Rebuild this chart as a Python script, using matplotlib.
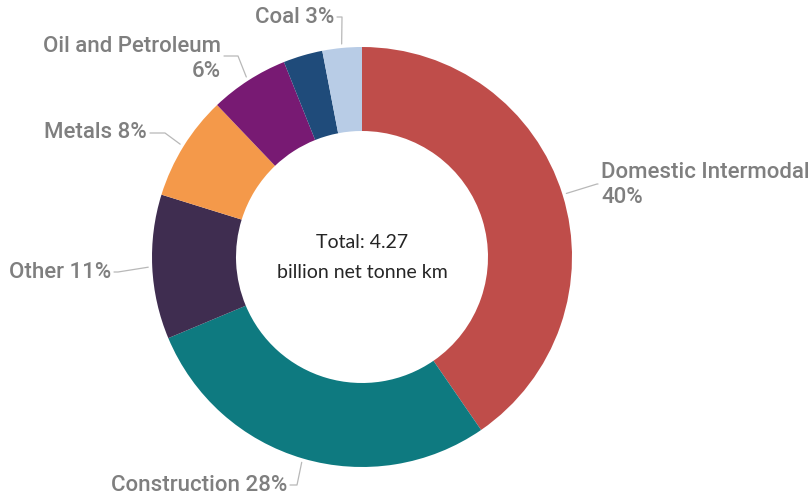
import matplotlib
matplotlib.use("Agg")
import matplotlib.pyplot as plt
import numpy as np

# ---- data ----
categories = ["Domestic Intermodal", "Construction", "Other", "Metals",
              "Oil and Petroleum", "Other bulk", "Coal"]
shares = [40, 28, 11, 8, 6, 3, 3]
label_texts = ["Domestic Intermodal\n40%", "Construction 28%", "Other 11%",
               "Metals 8%", "Oil and Petroleum\n6%", "", "Coal 3%"]
colors = ["#BF4D4A", "#0E7A80", "#3F2D50", "#F4994A", "#781A73", "#1F4B7A", "#B8CCE6"]
center_lines = ["Total: 4.27", "billion net tonne km"]

# ---- layout (pixel coords, y down) ----
W, H = 812, 495
CX, CY, R = 362, 257, 210
RING = 0.40
# text anchor (x, y), ha, elbow point
layout = {
    "Domestic Intermodal": ((601, 185), "left", (597, 184)),
    "Construction": ((287, 486), "right", (297, 485)),
    "Other": ((111, 272), "right", (118, 272)),
    "Metals": ((147, 133), "right", (165, 133)),
    "Oil and Petroleum": ((221, 59), "right", (238, 56)),
    "Coal": ((334, 17), "right", (342, 17)),
}

fig = plt.figure(figsize=(W / 100, H / 100), dpi=100)
ax = fig.add_axes([0, 0, 1, 1])

wedges, _ = ax.pie(shares, colors=colors, startangle=90, counterclock=False,
                   radius=R, center=(CX, H - CY), frame=True,
                   wedgeprops=dict(width=R * RING, linewidth=0))
ax.set_xlim(0, W)
ax.set_ylim(0, H)
ax.set_aspect("equal")
ax.axis("off")

label_font = dict(family=["Roboto", "DejaVu Sans"], fontsize=16, fontweight=500,
                  color="#7F7F7F")
line_col = "#B8B8B8"

for w, cat, txt in zip(wedges, categories, label_texts):
    if not txt or cat not in layout:
        continue
    mid = np.deg2rad((w.theta1 + w.theta2) / 2)
    sx = CX + (R + 4) * np.cos(mid)
    sy = (H - CY) + (R + 4) * np.sin(mid)
    (tx, ty), ha, (ex, ey) = layout[cat]
    ex_d, ey_d = ex, H - ey
    endx = tx + (-3 if ha == "left" else 3)
    ax.plot([sx, ex_d, endx], [sy, ey_d, ey_d], color=line_col, lw=0.9,
            solid_capstyle="round")
    ax.text(tx, H - ty, txt, ha=ha, va="center", linespacing=1.3, **label_font)

ax.text(CX, H - 243, center_lines[0], ha="center", va="center",
        family=["Lato", "DejaVu Sans"], fontsize=14, color="#252525")
ax.text(CX, H - 272, center_lines[1], ha="center", va="center",
        family=["Lato", "DejaVu Sans"], fontsize=14, color="#252525")

fig.savefig("out.png", dpi=100, facecolor="white")
